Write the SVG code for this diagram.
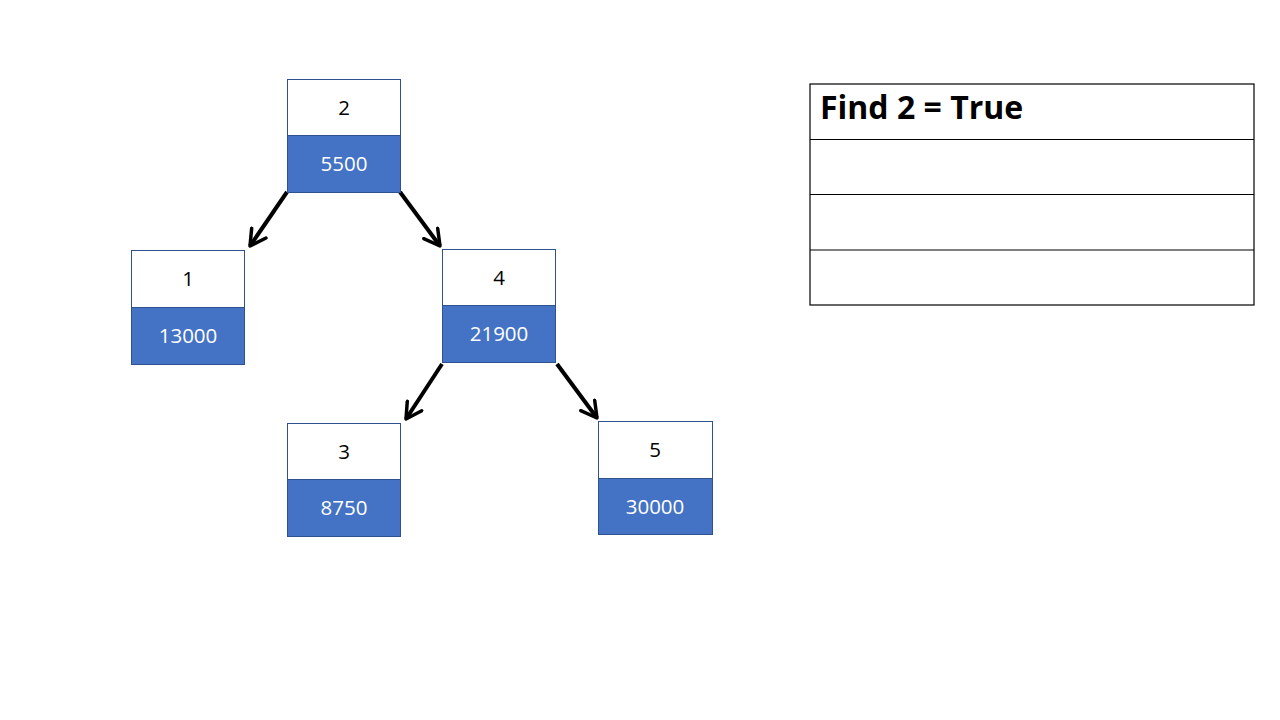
<svg xmlns="http://www.w3.org/2000/svg" width="1280" height="720" viewBox="0 0 1280 720">
<defs>
<marker id="ah" viewBox="0 0 12 12" refX="10" refY="6" markerWidth="5.2" markerHeight="5.2" markerUnits="strokeWidth" orient="auto">
<path d="M1,1 L10,6 L1,11" fill="none" stroke="#000" stroke-width="2" stroke-linecap="round" stroke-linejoin="round"/>
</marker>
<style>
.top{fill:#fff;stroke:#2F528F;stroke-width:1}
.bot{fill:#4472C4;stroke:#2F528F;stroke-width:1}
.k{font-family:"Open Sans","Noto Sans","Liberation Sans",sans-serif;font-size:20.5px;text-anchor:middle;fill:#000}
.v{font-family:"Open Sans","Noto Sans","Liberation Sans",sans-serif;font-size:20.5px;text-anchor:middle;fill:#fff}
.edge{stroke:#000;stroke-width:4;fill:none;marker-end:url(#ah)}
.tl{stroke:#000;stroke-width:1.2}
</style>
</defs>
<rect width="1280" height="720" fill="#fff"/>
<g id="connectors">
<line class="edge" x1="287" y1="192" x2="250" y2="246"/>
<line class="edge" x1="400" y1="192" x2="440" y2="246"/>
<line class="edge" x1="442" y1="364" x2="406" y2="419"/>
<line class="edge" x1="557" y1="364" x2="597" y2="418"/>
</g>
<g id="node2">
<rect class="top" x="287.5" y="79.5" width="113" height="56"/>
<rect class="bot" x="287.5" y="135.5" width="113" height="57"/>
<text class="k" x="344" y="115">2</text>
<text class="v" x="344" y="171">5500</text>
</g>
<g id="node1">
<rect class="top" x="131.5" y="250.5" width="113" height="57"/>
<rect class="bot" x="131.5" y="307.5" width="113" height="57"/>
<text class="k" x="188" y="286">1</text>
<text class="v" x="188" y="343">13000</text>
</g>
<g id="node4">
<rect class="top" x="442.5" y="249.5" width="113" height="56"/>
<rect class="bot" x="442.5" y="305.5" width="113" height="57"/>
<text class="k" x="499" y="285">4</text>
<text class="v" x="499" y="341">21900</text>
</g>
<g id="node3">
<rect class="top" x="287.5" y="423.5" width="113" height="56"/>
<rect class="bot" x="287.5" y="479.5" width="113" height="57"/>
<text class="k" x="344" y="459">3</text>
<text class="v" x="344" y="515">8750</text>
</g>
<g id="node5">
<rect class="top" x="598.5" y="421.5" width="114" height="57"/>
<rect class="bot" x="598.5" y="478.5" width="114" height="56"/>
<text class="k" x="655" y="457">5</text>
<text class="v" x="655" y="514">30000</text>
</g>
<g id="table">
<rect x="810" y="84" width="444" height="221" fill="#fff" stroke="#000" stroke-width="1.2"/>
<line class="tl" x1="810" y1="139.5" x2="1254" y2="139.5"/>
<line class="tl" x1="810" y1="194.5" x2="1254" y2="194.5"/>
<line class="tl" x1="810" y1="250" x2="1254" y2="250"/>
<text x="820" y="119" font-family="'Open Sans','Noto Sans','Liberation Sans',sans-serif" font-size="32" font-weight="bold" fill="#000">Find 2 = True</text>
</g>
</svg>
